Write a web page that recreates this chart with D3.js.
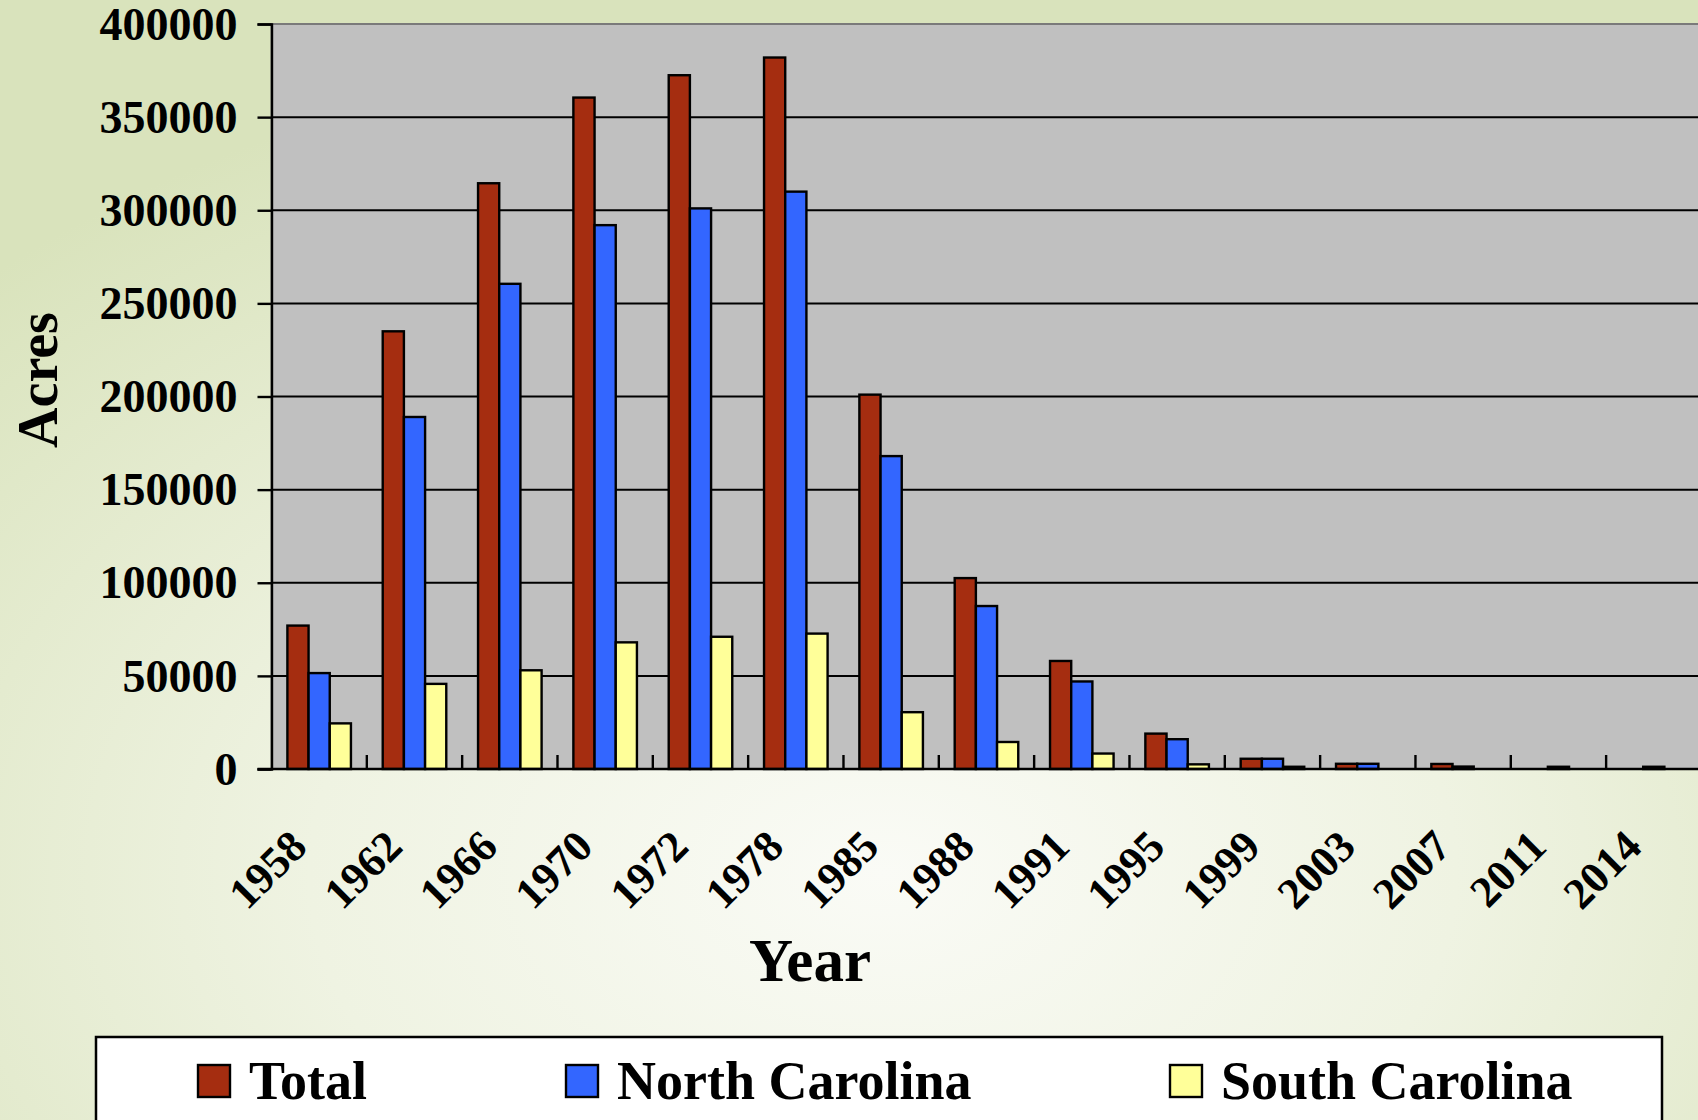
<!DOCTYPE html>
<html>
<head>
<meta charset="utf-8">
<script src="https://cdn.jsdelivr.net/npm/d3@7"></script>
<style>
  html, body { margin: 0; padding: 0; overflow: hidden; }
  svg { display: block; }
  text { font-family: "Liberation Serif", "Times New Roman", serif; font-weight: bold; fill: #000; }
</style>
</head>
<body>
<svg id="chart" width="1698" height="1120"></svg>
<script>
// Acreage by survey year
const years = ["1958","1962","1966","1970","1972","1978","1985","1988","1991","1995","1999","2003","2007","2011","2014"];
const totalAcres = [77000, 235000, 314500, 360500, 372500, 382000, 201000, 102500, 58000, 19000, 5500, 2800, 2700, 0, 0];
const northCarolina = [51500, 189000, 260500, 292000, 301000, 310000, 168000, 87500, 47000, 16000, 5500, 2800, 1300, 1200, 1200];
const southCarolina = [24500, 45700, 53000, 68000, 71000, 72700, 30500, 14500, 8300, 2500, 1200, 0, 0, 0, 0];
const seriesNames = ["Total", "North Carolina", "South Carolina"];
const seriesColors = ["#A52D10", "#3366FF", "#FFFF99"];
const yTicks = [0, 50000, 100000, 150000, 200000, 250000, 300000, 350000, 400000];

const seriesValues = [totalAcres, northCarolina, southCarolina];
const rows = years.map((yr, i) => ({ year: yr, values: seriesValues.map(s => s[i]) }));

const W = 1698, H = 1120;
const plot = { left: 271.5, top: 24, bottom: 769, step: 95.33 };
plot.right = plot.left + plot.step * years.length;

const svg = d3.select("#chart");

// page background
const defs = svg.append("defs");
const grad = defs.append("radialGradient")
  .attr("id", "bg").attr("cx", "52%").attr("cy", "78%").attr("r", "75%");
grad.append("stop").attr("offset", "0%").attr("stop-color", "#FAFBF6");
grad.append("stop").attr("offset", "45%").attr("stop-color", "#EFF3E2");
grad.append("stop").attr("offset", "100%").attr("stop-color", "#D9E3BC");
svg.append("rect").attr("width", W).attr("height", H).attr("fill", "url(#bg)");

const x0 = d3.scaleBand().domain(years).range([plot.left, plot.right]).paddingInner(0).paddingOuter(0);
const x1 = d3.scaleBand().domain(d3.range(seriesNames.length)).range([0, x0.bandwidth()])
  .paddingInner(0).paddingOuter(0.75);
const y = d3.scaleLinear().domain([0, 400000]).range([plot.bottom, plot.top]);

// plot area
svg.append("rect")
  .attr("x", plot.left).attr("y", plot.top)
  .attr("width", plot.right - plot.left).attr("height", plot.bottom - plot.top)
  .attr("fill", "#C0C0C0").attr("stroke", "#7A7A7A").attr("stroke-width", 2);

// gridlines
svg.append("g").selectAll("line")
  .data(yTicks.filter(t => t > 0 && t < 400000))
  .join("line")
  .attr("x1", plot.left).attr("x2", plot.right)
  .attr("y1", d => y(d)).attr("y2", d => y(d))
  .attr("stroke", "#000").attr("stroke-width", 2);

// bars
const groups = svg.append("g").selectAll("g")
  .data(rows).join("g")
  .attr("transform", d => `translate(${x0(d.year)},0)`);
groups.selectAll("rect")
  .data(d => d.values.map((v, k) => ({ v, k })))
  .join("rect")
  .attr("x", d => x1(d.k))
  .attr("width", x1.bandwidth())
  .attr("y", d => y(d.v))
  .attr("height", d => y(0) - y(d.v))
  .attr("fill", d => seriesColors[d.k])
  .attr("stroke", "#000").attr("stroke-width", 2.4);

// y axis
const yAxis = d3.axisLeft(y).tickValues(yTicks).tickSize(14).tickPadding(20).tickFormat(d3.format("d"));
const gy = svg.append("g").attr("transform", `translate(${plot.left},0)`).call(yAxis);
gy.select(".domain").attr("stroke", "#000").attr("stroke-width", 2.4);
gy.selectAll(".tick line").attr("stroke", "#000").attr("stroke-width", 2.4);
gy.selectAll(".tick text")
  .attr("font-size", 46).attr("font-family", null).attr("dy", "0.33em");

// x axis: baseline with upward ticks at category boundaries
const gx = svg.append("g");
gx.append("line")
  .attr("x1", plot.left - 14).attr("x2", plot.right)
  .attr("y1", plot.bottom).attr("y2", plot.bottom)
  .attr("stroke", "#000").attr("stroke-width", 2.4);
gx.selectAll("line.bound")
  .data(years.slice(1))
  .join("line").attr("class", "bound")
  .attr("x1", d => x0(d)).attr("x2", d => x0(d))
  .attr("y1", plot.bottom).attr("y2", plot.bottom - 14)
  .attr("stroke", "#000").attr("stroke-width", 2.4);
gx.selectAll("text")
  .data(years).join("text")
  .attr("transform", d => `translate(${x0(d) + x0.bandwidth() / 2 - 10},${plot.bottom + 80}) rotate(-45)`)
  .attr("text-anchor", "end")
  .attr("font-size", 44)
  .text(d => d);

// axis titles
svg.append("text")
  .attr("x", 810).attr("y", 981)
  .attr("text-anchor", "middle").attr("font-size", 61)
  .text("Year");
svg.append("text")
  .attr("transform", `translate(57,380) rotate(-90)`)
  .attr("text-anchor", "middle").attr("font-size", 56)
  .text("Acres");

// legend
const legend = svg.append("g");
legend.append("rect")
  .attr("x", 96).attr("y", 1037).attr("width", 1566).attr("height", 120)
  .attr("fill", "#fff").attr("stroke", "#000").attr("stroke-width", 2.5);
const legendX = [198, 566, 1170];
const items = legend.selectAll("g.item")
  .data(seriesNames).join("g").attr("class", "item")
  .attr("transform", (d, i) => `translate(${legendX[i]},1065)`);
items.append("rect")
  .attr("width", 32).attr("height", 32)
  .attr("fill", (d, i) => seriesColors[i])
  .attr("stroke", "#000").attr("stroke-width", 2.4);
items.append("text")
  .attr("x", 51).attr("y", 34)
  .attr("font-size", 54)
  .text(d => d);
</script>
</body>
</html>
